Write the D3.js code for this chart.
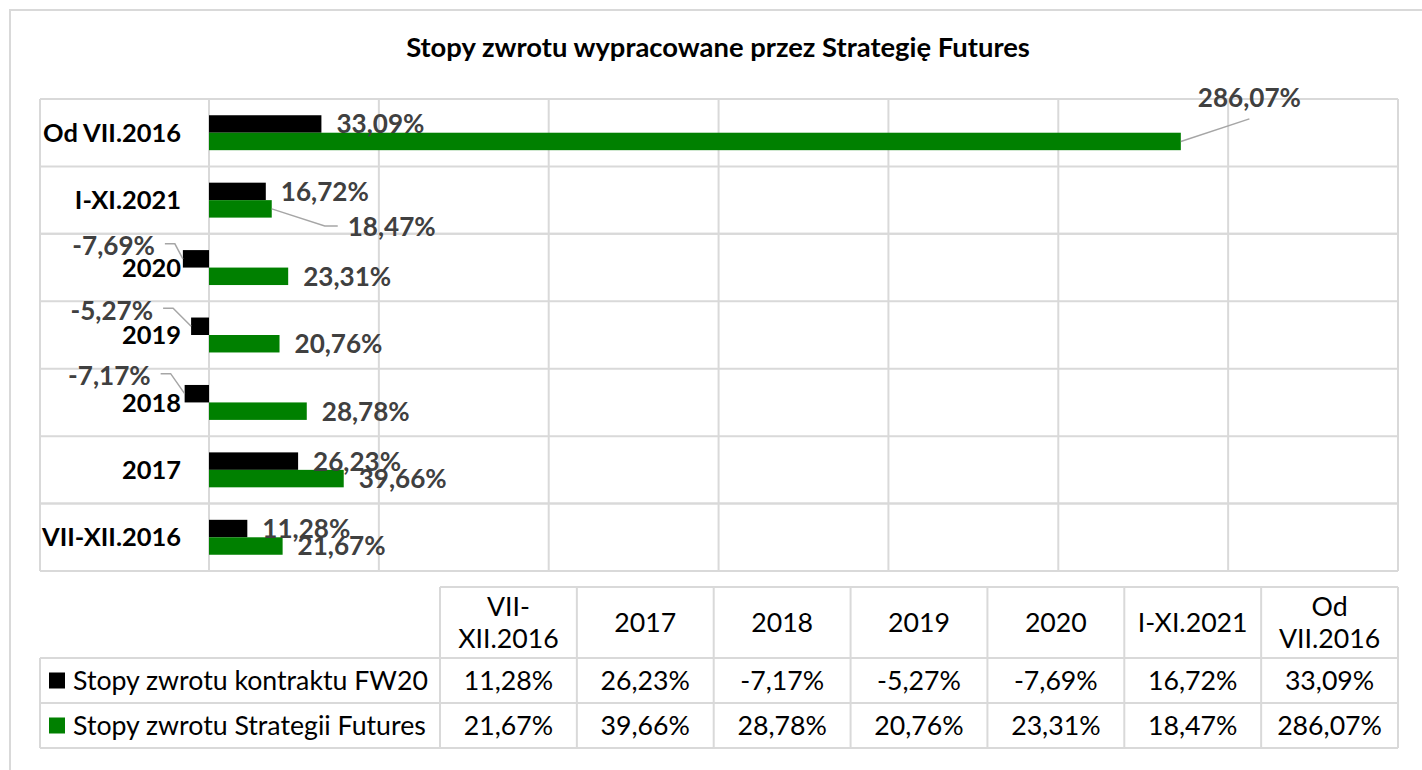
<!DOCTYPE html>
<html>
<head>
<meta charset="utf-8">
<script src="https://cdn.jsdelivr.net/npm/d3@7"></script>
<style>
  body { margin: 0; background: #fff; }
  svg { display: block; }
</style>
</head>
<body>
<svg id="chart"></svg>
<script>
const title = "Stopy zwrotu wypracowane przez Strategię Futures";
const categories = ["VII-XII.2016", "2017", "2018", "2019", "2020", "I-XI.2021", "Od VII.2016"];
const tableHeaders = [["VII-", "XII.2016"], ["2017"], ["2018"], ["2019"], ["2020"], ["I-XI.2021"], ["Od", "VII.2016"]];
const seriesNames = ["Stopy zwrotu kontraktu FW20", "Stopy zwrotu Strategii Futures"];
const fw20Values = [11.28, 26.23, -7.17, -5.27, -7.69, 16.72, 33.09];
const futuresValues = [21.67, 39.66, 28.78, 20.76, 23.31, 18.47, 286.07];
const xTicks = [0, 50, 100, 150, 200, 250, 300, 350];

const colors = ["#000000", "#008000"];
const FONT = "Lato, 'Open Sans', sans-serif";
const GRID = "#d9d9d9";
const W = 1422, H = 770;

// labels Excel moved by hand (series index | category)
const labelMoves = {
    "1|Od VII.2016": {dx: 2, dy: -44, leader: "below"},
    "1|I-XI.2021": {dx: 61, dy: 18, leader: "side"},
    "0|2020": {dx: -13, dy: -13, leader: "side"},
    "0|2019": {dx: -23, dy: -16, leader: "side"},
    "0|2018": {dx: -19, dy: -18, leader: "side"}
};

const locale = d3.formatLocale({decimal: ",", thousands: " ", grouping: [3], currency: ["", ""], minus: "-"});
const fmt = v => locale.format(".2f")(v) + "%";

const svg = d3.select("#chart").attr("width", W).attr("height", H);
svg.append("rect").attr("width", W).attr("height", H).attr("fill", "#fff");

function fitFont(text, weight, target) {
    const t = svg.append("text")
        .attr("font-family", FONT).attr("font-weight", weight)
        .attr("font-size", 100).text(text);
    const w = t.node().getComputedTextLength();
    t.remove();
    return 100 * target / w;
}

const titleSize = fitFont(title, 700, 624);
const catSize = fitFont("Od VII.2016", 700, 138);
const labelSize = fitFont("33,09%", 700, 88);
const tableSize = fitFont(seriesNames[0], 400, 355);

// outer chart border
svg.append("rect")
    .attr("x", 10).attr("y", 10)
    .attr("width", W + 20).attr("height", H + 20)
    .attr("fill", "none").attr("stroke", GRID).attr("stroke-width", 2);

svg.append("text")
    .attr("x", 718).attr("y", 57)
    .attr("text-anchor", "middle")
    .attr("font-family", FONT).attr("font-weight", 700)
    .attr("font-size", titleSize)
    .attr("fill", "#000")
    .text(title);

// ---------- plot ----------
const plot = {left: 40, top: 99, right: 1398, bottom: 571};
const x = d3.scaleLinear().domain([0, 350]).range([209, plot.right]);
const y = d3.scaleBand().domain(categories).range([plot.bottom, plot.top]);
const ySub = d3.scaleBand().domain([0, 1]).range([0, y.bandwidth()]).paddingOuter(0.93);

const grid = svg.append("g").attr("stroke", GRID).attr("stroke-width", 2);
grid.selectAll("line.v")
    .data(xTicks)
    .join("line")
    .attr("class", "v")
    .attr("x1", d => x(d)).attr("x2", d => x(d))
    .attr("y1", plot.top).attr("y2", plot.bottom);
grid.append("line")
    .attr("x1", plot.left).attr("x2", plot.left)
    .attr("y1", plot.top).attr("y2", plot.bottom);
let rowEdges = [...new Set(categories.flatMap(c => [y(c), y(c) + y.bandwidth()]))];
grid.selectAll("line.h")
    .data(rowEdges)
    .join("line")
    .attr("class", "h")
    .attr("x1", plot.left).attr("x2", plot.right)
    .attr("y1", d => d).attr("y2", d => d);

const bars = [];
categories.forEach((c, i) => {
    [fw20Values[i], futuresValues[i]].forEach((v, s) => bars.push({cat: c, s: s, v: v}));
});

svg.append("g").selectAll("rect")
    .data(bars)
    .join("rect")
    .attr("x", d => x(Math.min(0, d.v)))
    .attr("width", d => Math.abs(x(d.v) - x(0)))
    .attr("y", d => y(d.cat) + ySub(d.s))
    .attr("height", ySub.bandwidth())
    .attr("fill", d => colors[d.s]);

// category labels
svg.append("g").selectAll("text")
    .data(categories)
    .join("text")
    .attr("x", x(0) - 28)
    .attr("y", d => y(d) + y.bandwidth() / 2)
    .attr("dy", "0.36em")
    .attr("text-anchor", "end")
    .attr("font-family", FONT).attr("font-weight", 700)
    .attr("font-size", catSize)
    .text(d => d);

// data labels
const leaders = svg.append("g")
    .attr("fill", "none").attr("stroke", "#a6a6a6").attr("stroke-width", 1.5);
const labels = svg.append("g");

bars.forEach(d => {
    const move = labelMoves[d.s + "|" + d.cat] || {dx: 0, dy: 0};
    const endX = x(d.v);
    const cy = y(d.cat) + ySub(d.s) + ySub.bandwidth() / 2;
    const pos = d.v >= 0;
    const lx = (pos ? endX + 15 : endX - 15) + move.dx;
    const ly = cy + move.dy;
    const t = labels.append("text")
        .attr("x", lx).attr("y", ly).attr("dy", "0.36em")
        .attr("text-anchor", pos ? "start" : "end")
        .attr("font-family", FONT).attr("font-weight", 700)
        .attr("font-size", labelSize)
        .attr("fill", "#404040")
        .text(fmt(d.v));
    if (!move.leader) return;
    const w = t.node().getComputedTextLength();
    let pts;
    if (move.leader === "below") {
        const mid = lx + w / 2;
        pts = [[endX, cy], [mid, ly + labelSize * 0.36 + 12]];
    } else if (pos) {
        pts = [[endX, cy], [lx - 23, ly - 1], [lx - 10, ly - 1]];
    } else {
        pts = [[endX, cy], [lx + 20, ly - 2], [lx + 10, ly - 2]];
    }
    leaders.append("path").attr("d", d3.line()(pts));
});

// ---------- data table ----------
const table = {left: 40, top: 587, head: 658, rowH: 45};
const col = d3.scaleBand().domain(categories).range([440, plot.right]);
const rowY = [table.head, table.head + table.rowH, table.head + 2 * table.rowH];

const tg = svg.append("g").attr("stroke", GRID).attr("stroke-width", 2);
tg.append("line")
    .attr("x1", col.range()[0]).attr("x2", plot.right)
    .attr("y1", table.top).attr("y2", table.top);
tg.selectAll("line.h")
    .data(rowY)
    .join("line")
    .attr("class", "h")
    .attr("x1", table.left).attr("x2", plot.right)
    .attr("y1", d => d).attr("y2", d => d);
tg.selectAll("line.v")
    .data(categories.map(c => col(c)).concat([plot.right]))
    .join("line")
    .attr("class", "v")
    .attr("x1", d => d).attr("x2", d => d)
    .attr("y1", table.top).attr("y2", rowY[2]);
tg.append("line")
    .attr("x1", table.left).attr("x2", table.left)
    .attr("y1", rowY[0]).attr("y2", rowY[2]);

const headMid = (table.top + table.head) / 2;
categories.forEach((c, i) => {
    const lines = tableHeaders[i];
    lines.forEach((ln, k) => {
        svg.append("text")
            .attr("x", col(c) + col.bandwidth() / 2)
            .attr("y", headMid + (k - (lines.length - 1) / 2) * 32)
            .attr("dy", "0.36em")
            .attr("text-anchor", "middle")
            .attr("font-family", FONT).attr("font-size", tableSize)
            .text(ln);
    });
});

[fw20Values, futuresValues].forEach((vals, s) => {
    const cy = rowY[s] + table.rowH / 2;
    svg.append("rect")
        .attr("x", 49).attr("y", cy - 8)
        .attr("width", 16).attr("height", 16)
        .attr("fill", colors[s]);
    svg.append("text")
        .attr("x", 73).attr("y", cy).attr("dy", "0.36em")
        .attr("font-family", FONT).attr("font-size", tableSize)
        .text(seriesNames[s]);
    svg.append("g").selectAll("text")
        .data(vals)
        .join("text")
        .attr("x", (v, i) => col(categories[i]) + col.bandwidth() / 2)
        .attr("y", cy).attr("dy", "0.36em")
        .attr("text-anchor", "middle")
        .attr("font-family", FONT).attr("font-size", tableSize)
        .text(v => fmt(v));
});
</script>
</body>
</html>
